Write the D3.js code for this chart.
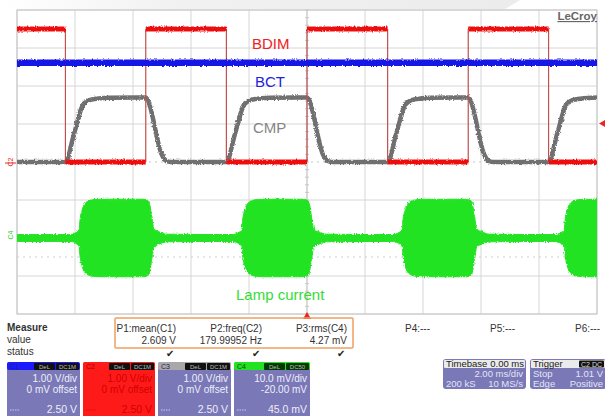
<!DOCTYPE html>
<html><head><meta charset="utf-8">
<script src="https://cdn.jsdelivr.net/npm/d3@7"></script>
<style>html,body{margin:0;padding:0;background:#fff;overflow:hidden}svg{display:block;font-family:"Liberation Sans",Arial,sans-serif}</style>
</head><body><svg id="c" width="605" height="416"></svg>
<script>
// ---------- data ----------
const timeDomain = [0, 20];            // ms (2.00 ms/div, 10 div)
const divDomain = [-4, 4];             // vertical divisions
const bdimTimes = [0, 1.67, 4.44, 7.22, 10.0, 12.78, 15.56, 18.33, 20];
const bdimLevels = [3.5, 0, 3.5, 0, 3.5, 0, 3.5, 0];   // V
const bctLevel = 2.609;                                 // V
const cmpRise = [[0,0],[0.3,0.75],[0.6,1.5],[0.75,1.6],[1.0,1.66],[1.5,1.69],[2.5,1.7]];
const cmpFall = [[0,1.7],[0.05,1.66],[0.55,0.2],[0.7,0.03],[0.85,0]];
const lampBaseline = 0.9;                               // mV
const burstStarts = [2.17, 7.78, 13.31, 18.9];
const burstEnds = [4.66, 10.17, 15.79, 21.5];
const burstAttack = [[-0.35,0.9],[-0.15,1.4],[-0.03,2.2],[0,4.6],[0.08,7.5],[0.2,9.3],[0.4,10.0],[0.7,10.2]];
const burstRelease = [[-0.3,10.2],[-0.12,9.7],[0,5],[0.06,2.4],[0.25,1.6],[0.5,1.0]];
const chVdiv = {C1:1, C2:1, C3:1, C4:10};   // V/div, mV/div for C4
const chOffset = {C1:0, C2:0, C3:0, C4:-20};

const measNames = ["P1:mean(C1)","P2:freq(C2)","P3:rms(C4)","P4:---","P5:---","P6:---"];
const measValues = ["2.609 V","179.99952 Hz","4.27 mV","","",""];
const chanNames = ["C1","C2","C3","C4"];
const chanVdivTxt = ["1.00 V/div","1.00 V/div","1.00 V/div","10.0 mV/div"];
const chanOffsetTxt = ["0 mV offset","0 mV offset","0 mV offset","-20.00 mV"];
const chanScaleTxt = ["2.50 V","2.50 V","2.50 V","45.0 mV"];
const chanCoupling = [["DeL","DC1M"],["DeL","DC1M"],["DeL","DC1M"],["DeL","DC50"]];
const timebaseRows = [["Timebase","0.00 ms"],["","2.00 ms/div"],["200 kS","10 MS/s"]];
const triggerRows = [["Trigger","C2 DC"],["Stop","1.01 V"],["Edge","Positive"]];

// ---------- layout ----------
const svg = d3.select("#c");
const P = {l:17, r:597, t:10, b:314};
const x = d3.scaleLinear().domain(timeDomain).range([P.l, P.r]);
const y = d3.scaleLinear().domain(divDomain).range([P.b, P.t]);
const yc = (ch, v) => y((v + chOffset[ch]) / chVdiv[ch]);

const defs = svg.append("defs");
const g0 = defs.append("linearGradient").attr("id","topg").attr("x1",0).attr("x2",1).attr("y1",0).attr("y2",0);
g0.append("stop").attr("offset","0").attr("stop-color","#ffffff");
g0.append("stop").attr("offset","0.35").attr("stop-color","#f1f1f1");
g0.append("stop").attr("offset","1").attr("stop-color","#ececec");
defs.append("clipPath").attr("id","clip").append("rect")
  .attr("x",P.l).attr("y",P.t).attr("width",P.r-P.l).attr("height",P.b-P.t);
const f = defs.append("filter").attr("id","noise").attr("filterUnits","userSpaceOnUse")
  .attr("x",0).attr("y",0).attr("width",605).attr("height",416);
f.append("feTurbulence").attr("type","fractalNoise").attr("baseFrequency","0.9 0.5").attr("numOctaves",2).attr("seed",3).attr("result","t");
f.append("feDisplacementMap").attr("in","SourceGraphic").attr("in2","t").attr("scale",3.2)
  .attr("xChannelSelector","R").attr("yChannelSelector","G");

// top light background
svg.append("path").attr("d","M0,0 L520,0 L505,9 L0,9 Z").attr("fill","url(#topg)");

// grid
const grid = svg.append("g");
d3.range(0, 11).forEach(i => grid.append("line")
  .attr("x1", x(i*2)).attr("x2", x(i*2)).attr("y1", P.t).attr("y2", P.b)
  .attr("stroke", "#d6d6d6").attr("stroke-width", 1));
d3.range(-4, 5).forEach(j => { if (j !== 0) grid.append("line")
  .attr("y1", y(j)).attr("y2", y(j)).attr("x1", P.l).attr("x2", P.r)
  .attr("stroke", "#d6d6d6").attr("stroke-width", 1); });
// center axes with ticks
grid.append("line").attr("x1",P.l).attr("x2",P.r).attr("y1",y(0)).attr("y2",y(0))
  .attr("stroke","#c4c4c4").attr("stroke-dasharray","2,4");
grid.append("line").attr("y1",P.t).attr("y2",P.b).attr("x1",x(10)).attr("x2",x(10))
  .attr("stroke","#c8c8c8");
d3.range(0, 41).forEach(k => grid.append("line")
  .attr("y1", y(-4 + k*0.2)).attr("y2", y(-4 + k*0.2)).attr("x1", x(10)-2).attr("x2", x(10)+2)
  .attr("stroke","#c8c8c8"));
grid.append("line").attr("x1",P.l).attr("x2",P.r).attr("y1",yc("C4",-5)).attr("y2",yc("C4",-5))
  .attr("stroke","#cfcfcf").attr("stroke-dasharray","2,4");
svg.append("rect").attr("x",P.l).attr("y",P.t).attr("width",P.r-P.l).attr("height",P.b-P.t)
  .attr("fill","none").attr("stroke","#c6c6c6");

const plot = svg.append("g").attr("clip-path","url(#clip)");
const line = d3.line().x(d => x(d[0])).y(d => d[1]);

// CMP (C3)
let cmpPts = [[0, 0]];
for (let i = 1; i < bdimTimes.length - 1; i++) {
  const shape = bdimLevels[i] === 0 ? cmpRise : cmpFall;
  const prev = cmpPts[cmpPts.length - 1][1];
  cmpPts.push([bdimTimes[i], prev]);
  shape.forEach(([dt, v]) => cmpPts.push([bdimTimes[i] + dt, v]));
}
cmpPts.push([timeDomain[1] + 3, cmpPts[cmpPts.length - 1][1]]);
cmpPts = cmpPts.sort((a,b) => a[0]-b[0]);
plot.append("path").attr("filter","url(#noise)")
  .attr("d", d3.line().x(d => x(d[0])).y(d => yc("C3", d[1])).curve(d3.curveMonotoneX)(cmpPts))
  .attr("fill","none").attr("stroke","#6f6f6f").attr("stroke-width",4.5);

// BDIM (C2)
const bd = plot.append("g");
for (let i = 1; i < bdimTimes.length - 1; i++) {
  bd.append("line").attr("x1",x(bdimTimes[i])).attr("x2",x(bdimTimes[i]))
    .attr("y1",yc("C2",3.5)).attr("y2",yc("C2",0))
    .attr("stroke","#c0504d").attr("stroke-width",1.2);
}
const bdn = plot.append("g").attr("filter","url(#noise)");
bdimLevels.forEach((lv, i) => bdn.append("path")
  .attr("d", line([[bdimTimes[i], yc("C2", lv)], [bdimTimes[i+1], yc("C2", lv)]]))
  .attr("stroke","#ee1111").attr("stroke-width",5).attr("fill","none"));

// BCT (C1)
plot.append("path").attr("filter","url(#noise)")
  .attr("d", line([[timeDomain[0], yc("C1", bctLevel)], [timeDomain[1], yc("C1", bctLevel)]]))
  .attr("stroke","#1515e6").attr("stroke-width",6.5).attr("fill","none");

// Lamp current (C4)
let env = [[timeDomain[0]-1, lampBaseline]];
burstStarts.forEach((s, i) => {
  burstAttack.forEach(([dt, a]) => env.push([s + dt, a]));
  burstRelease.forEach(([dt, a]) => env.push([burstEnds[i] + dt, a]));
});
env.push([timeDomain[1] + 3, lampBaseline]);
plot.append("path").attr("filter","url(#noise)")
  .attr("d", d3.area().x(d => x(d[0])).y0(d => yc("C4", -d[1])).y1(d => yc("C4", d[1]))
    .curve(d3.curveMonotoneX)(env))
  .attr("fill","#22e322").attr("stroke","#22e322").attr("stroke-width",1);

// trace labels
const lab = [["BDIM",252,49,"#ee2222"],["BCT",255,87,"#2222dd"],["CMP",253,133,"#858585"],["Lamp current",236,300,"#33dd33"]];
lab.forEach(([t,xx,yy,c]) => svg.append("text").attr("x",xx).attr("y",yy).text(t)
  .attr("fill",c).attr("font-size",15));

// LeCroy logo
svg.append("text").attr("x",597).attr("y",20).attr("text-anchor","end").text("LeCroy")
  .attr("font-size",11.5).attr("font-weight","bold").attr("fill","#666").attr("text-decoration","underline");

// channel markers
svg.append("text").attr("transform",`translate(13,${yc("C2",0)}) rotate(-90)`).attr("text-anchor","middle")
  .attr("font-size",7).attr("fill","#e22").text("C2");
svg.append("line").attr("x1",5).attr("x2",16).attr("y1",yc("C2",0)+1).attr("y2",yc("C2",0)+1).attr("stroke","#e22");
svg.append("text").attr("transform",`translate(13,${yc("C4",0)-3}) rotate(-90)`).attr("text-anchor","middle")
  .attr("font-size",7).attr("fill","#3c3").text("C4");
svg.append("path").attr("d",`M599,${yc("C2",1.01)} L605,${yc("C2",1.01)-3.5} L605,${yc("C2",1.01)+3.5} Z`).attr("fill","#e22");
svg.append("path").attr("d",`M${x(10)},${P.b-2} L${x(10)-4},${P.b+5} L${x(10)+4},${P.b+5} Z`).attr("fill","#e22");

// ---------- measurement panel ----------
const tc = "#333";
[["Measure",331,"bold"],["value",343,"normal"],["status",355,"normal"]].forEach(([t,yy,w]) =>
  svg.append("text").attr("x",7).attr("y",yy).text(t).attr("font-size",10).attr("fill",tc).attr("font-weight",w));
svg.append("rect").attr("x",115).attr("y",318).attr("width",238).attr("height",30).attr("rx",1)
  .attr("fill","none").attr("stroke","#f0a060").attr("stroke-width",1.5);
const measRight = [176, 262, 347, 430, 515, 600];
measNames.forEach((n, i) => {
  svg.append("text").attr("x",measRight[i]).attr("y",332).attr("text-anchor","end").text(n)
    .attr("font-size",10).attr("fill",tc);
  if (measValues[i]) {
    svg.append("text").attr("x",measRight[i]).attr("y",344).attr("text-anchor","end").text(measValues[i])
      .attr("font-size",10).attr("fill",tc);
    svg.append("text").attr("x",measRight[i]-6).attr("y",357).attr("text-anchor","middle").text("\u2714")
      .attr("font-size",10).attr("fill","#222");
  }
});

// channel boxes
const boxX = [7, 83, 158, 234], boxW = [73, 72, 73, 76];
const hdrCol = ["#1a1aff","#ff1a1a","#a8a8a8","#22e322"];
const bodyCol = ["#7a78b6","#ff1a1a","#7a78b6","#7a78b6"];
const txtCol = ["#eeeefa","#d00000","#eeeefa","#eeeefa"];
chanNames.forEach((n, i) => {
  const bx = boxX[i], bw = boxW[i], by = 362;
  svg.append("rect").attr("x",bx).attr("y",by).attr("width",bw).attr("height",60).attr("rx",3).attr("fill",bodyCol[i]);
  svg.append("rect").attr("x",bx).attr("y",by).attr("width",bw).attr("height",8).attr("rx",2).attr("fill",hdrCol[i]);
  svg.append("text").attr("x",bx+3).attr("y",by+7).text(n).attr("font-size",7)
    .attr("fill", i===3 ? "#114411" : (i===1 ? "#aa0000" : "#222266"));
  const blk = i===3 ? "#063806" : "#111";
  svg.append("rect").attr("x",bx+bw-46).attr("y",by+1).attr("width",21).attr("height",7).attr("rx",1).attr("fill",blk);
  svg.append("rect").attr("x",bx+bw-24).attr("y",by+1).attr("width",23).attr("height",7).attr("rx",1).attr("fill",blk);
  svg.append("text").attr("x",bx+bw-35.5).attr("y",by+6.5).attr("text-anchor","middle").text(chanCoupling[i][0])
    .attr("font-size",6).attr("fill","#bbb");
  svg.append("text").attr("x",bx+bw-12.5).attr("y",by+6.5).attr("text-anchor","middle").text(chanCoupling[i][1])
    .attr("font-size",6).attr("fill","#bbb");
  svg.append("text").attr("x",bx+bw-3).attr("y",by+19.5).attr("text-anchor","end").text(chanVdivTxt[i])
    .attr("font-size",10).attr("fill",txtCol[i]);
  svg.append("text").attr("x",bx+bw-3).attr("y",by+30.5).attr("text-anchor","end").text(chanOffsetTxt[i])
    .attr("font-size",10).attr("fill",txtCol[i]);
  svg.append("text").attr("x",bx+bw-3).attr("y",by+51).attr("text-anchor","end").text(chanScaleTxt[i])
    .attr("font-size",10.5).attr("fill",txtCol[i]);
  svg.append("line").attr("x1",bx+3).attr("x2",bx+13).attr("y1",by+48).attr("y2",by+48)
    .attr("stroke",txtCol[i]).attr("stroke-dasharray","1.5,1").attr("opacity",0.7);
});

// timebase / trigger boxes
function infoBox(bx, bw, rows, tag) {
  const by = 359;
  svg.append("rect").attr("x",bx).attr("y",by).attr("width",bw).attr("height",30).attr("rx",3).attr("fill","#7a78b6");
  svg.append("rect").attr("x",bx+1).attr("y",by+1).attr("width",bw-2).attr("height",8).attr("rx",1).attr("fill","#ebebeb");
  svg.append("text").attr("x",bx+3).attr("y",by+8).text(rows[0][0]).attr("font-size",9.5).attr("fill","#222");
  if (tag) {
    svg.append("rect").attr("x",bx+bw-27).attr("y",by+1.5).attr("width",25).attr("height",7).attr("rx",1).attr("fill","#111");
    svg.append("text").attr("x",bx+bw-14.5).attr("y",by+7.5).attr("text-anchor","middle").text(rows[0][1])
      .attr("font-size",7).attr("fill","#ddd");
  } else {
    svg.append("text").attr("x",bx+bw-2).attr("y",by+8).attr("text-anchor","end").text(rows[0][1])
      .attr("font-size",9.5).attr("fill","#222");
  }
  rows.slice(1).forEach((r, k) => {
    svg.append("text").attr("x",bx+3).attr("y",by+18+k*10).text(r[0]).attr("font-size",9.5).attr("fill","#e4e4f6");
    svg.append("text").attr("x",bx+bw-3).attr("y",by+18+k*10).attr("text-anchor","end").text(r[1])
      .attr("font-size",9.5).attr("fill","#e4e4f6");
  });
}
infoBox(443, 83, timebaseRows, false);
infoBox(530, 76, triggerRows, true);
</script></body></html>
